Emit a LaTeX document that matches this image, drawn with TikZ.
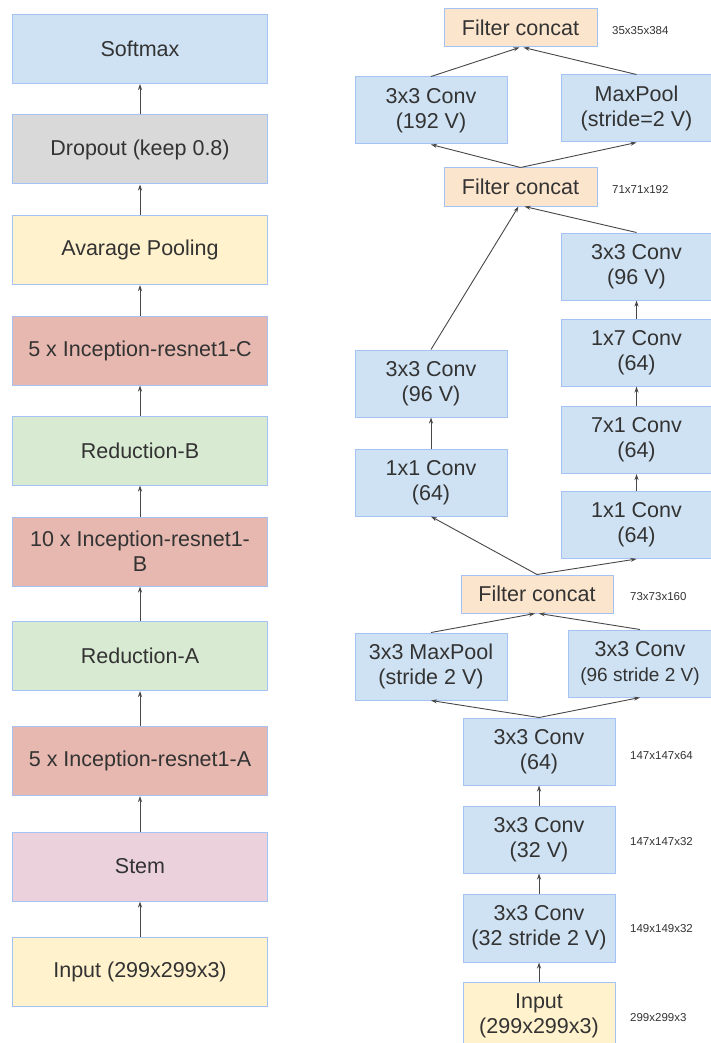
\documentclass[tikz,border=0pt]{standalone}
\usepackage{fontspec}
\setmainfont{Liberation Sans}
\usetikzlibrary{arrows.meta}
\definecolor{txt}{HTML}{333333}
\definecolor{edge}{HTML}{A4C2F4}
\definecolor{cblue}{HTML}{CFE2F3}
\definecolor{cgray}{HTML}{D9D9D9}
\definecolor{cyellow}{HTML}{FFF2CC}
\definecolor{cred}{HTML}{E6B8AF}
\definecolor{cgreen}{HTML}{D9EAD3}
\definecolor{cpink}{HTML}{EAD1DC}
\definecolor{corange}{HTML}{FCE5CD}
\begin{document}
\begin{tikzpicture}[x=1pt, y=-1pt,
    >={Stealth[length=6pt,width=4pt]},
    blk/.style={draw=edge, line width=1pt, text=txt, align=center,
        font=\fontsize{21.5}{25}\selectfont, inner sep=0pt},
    big/.style={blk, minimum width=255pt, minimum height=69pt},
    small/.style={blk, fill=cblue, minimum width=152pt, minimum height=67pt},
    cat/.style={blk, fill=corange, minimum width=153pt, minimum height=38pt},
    dim/.style={anchor=west, text=txt, font=\fontsize{11.5}{13}\selectfont, inner sep=0pt},
    arr/.style={->, draw=txt!90, line width=0.9pt}]
    \useasboundingbox (0,0) rectangle (710,1043);

    % left column
    \node[big, fill=cblue]   (soft) at (140,49)    {Softmax};
    \node[big, fill=cgray]   (drop) at (140,149.5) {Dropout (keep 0.8)};
    \node[big, fill=cyellow] (avg)  at (140,250)   {Avarage Pooling};
    \node[big, fill=cred]    (incC) at (140,350.5) {5 x Inception-resnet1-C};
    \node[big, fill=cgreen]  (redB) at (140,450.5) {Reduction-B};
    \node[big, fill=cred]    (incB) at (140,551.5) {10 x Inception-resnet1-\\B};
    \node[big, fill=cgreen]  (redA) at (140,656)   {Reduction-A};
    \node[big, fill=cred]    (incA) at (140,761)   {5 x Inception-resnet1-A};
    \node[big, fill=cpink]   (stem) at (140,866.5) {Stem};
    \node[big, fill=cyellow] (inL)  at (140,971.5) {Input (299x299x3)};

    \foreach \a/\b in {inL/stem, stem/incA, incA/redA, redA/incB,
                       incB/redB, redB/incC, incC/avg, avg/drop, drop/soft}
        \draw[arr] (\a) -- (\b);

    % right column
    \node[cat] (fc1) at (520.5,28) {Filter concat};
    \node[small] (c192) at (431,110.5) {3x3 Conv\\(192 V)};
    \node[small, minimum width=151pt] (mp) at (636.5,108.5) {MaxPool\\(stride=2 V)};
    \node[cat] (fc2) at (520.5,187) {Filter concat};
    \node[small, minimum width=151pt] (c96r) at (636.5,266.5) {3x3 Conv\\(96 V)};
    \node[small, minimum width=151pt] (c17)  at (636.5,352.5) {1x7 Conv\\(64)};
    \node[small, minimum width=151pt] (c71)  at (636.5,440)   {7x1 Conv\\(64)};
    \node[small, minimum width=151pt] (c11r) at (636.5,525)   {1x1 Conv\\(64)};
    \node[small] (c96l) at (431,383.5) {3x3 Conv\\(96 V)};
    \node[small] (c11l) at (431,482.5) {1x1 Conv\\(64)};
    \node[cat, minimum width=152pt] (fc3) at (537,594) {Filter concat};
    \node[small] (mp3) at (431,666.5) {3x3 MaxPool\\(stride 2 V)};
    \node[small, minimum width=144pt] (c96s) at (640,663.5) {3x3 Conv\\{\fontsize{19}{25}\selectfont(96 stride 2 V)}};
    \node[small] (c64)  at (539,751.5) {3x3 Conv\\(64)};
    \node[small] (c32)  at (539,839.5) {3x3 Conv\\(32 V)};
    \node[small, minimum height=68pt] (c32s) at (539,928) {3x3 Conv\\(32 stride 2 V)};
    \node[small, fill=cyellow, minimum height=68pt] (inR) at (539,1016) {Input\\(299x299x3)};

    \node[dim] (d1) at (612,31)   {35x35x384};
    \node[dim] (d2) at (612,190)  {71x71x192};
    \node[dim] (d3) at (630,597)  {73x73x160};
    \node[dim] (d4) at (630,756)  {147x147x64};
    \node[dim] (d5) at (630,842)  {147x147x32};
    \node[dim] (d6) at (630,929)  {149x149x32};
    \node[dim] (d7) at (630,1018) {299x299x3};

    \draw[arr] (inR) -- (c32s);
    \draw[arr] (c32s) -- (c32);
    \draw[arr] (c32) -- (c64);
    \draw[arr] (c64.north) -- (mp3.south);
    \draw[arr] (c64.north) -- (c96s.south);
    \draw[arr] (mp3.north) -- ([xshift=-2pt]fc3.south);
    \draw[arr] (c96s.north) -- ([xshift=2pt]fc3.south);
    \draw[arr] (fc3.north) -- (c11l.south);
    \draw[arr] (fc3.north) -- (c11r.south);
    \draw[arr] (c11l) -- (c96l);
    \draw[arr] (c11r) -- (c71);
    \draw[arr] (c71) -- (c17);
    \draw[arr] (c17) -- (c96r);
    \draw[arr] (c96l.north) -- ([xshift=-2pt]fc2.south);
    \draw[arr] (c96r.north) -- ([xshift=4pt]fc2.south);
    \draw[arr] (fc2.north) -- (c192.south);
    \draw[arr] (fc2.north) -- (mp.south);
    \draw[arr] (c192.north) -- ([xshift=-1pt]fc1.south);
    \draw[arr] (mp.north) -- ([xshift=3pt]fc1.south);
\end{tikzpicture}
\end{document}
